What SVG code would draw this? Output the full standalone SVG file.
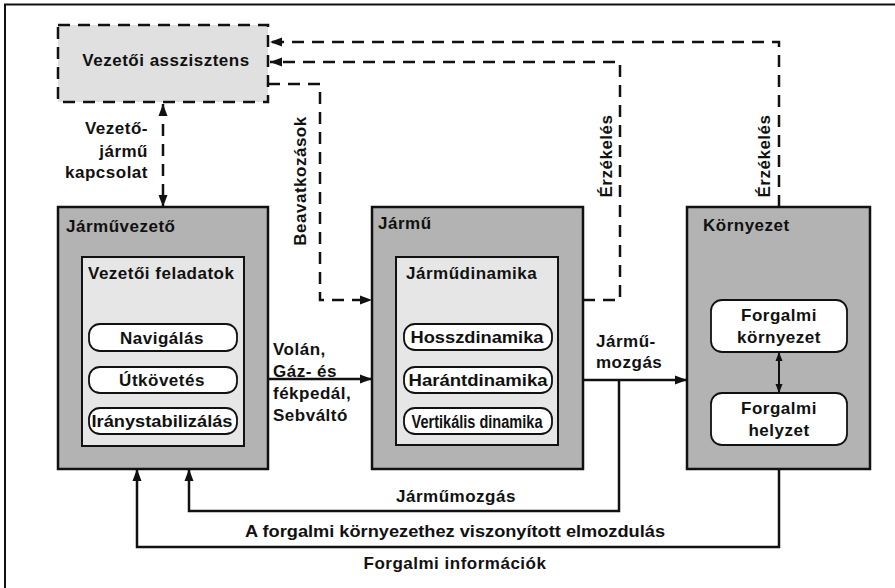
<svg xmlns="http://www.w3.org/2000/svg" width="895" height="588" viewBox="0 0 895 588">
<style>
text{font-family:"Liberation Sans",Arial,sans-serif;font-weight:bold;fill:#111;font-size:17px;letter-spacing:0.5px}
.outer{fill:#b3b3b3;stroke:#111;stroke-width:2.5}
.inner{fill:#e6e6e6;stroke:#111;stroke-width:2}
.pill{fill:#fff;stroke:#111;stroke-width:1.8}
.ln{fill:none;stroke:#111;stroke-width:2.5}
.dash{fill:none;stroke:#111;stroke-width:2.5;stroke-dasharray:12 8}
.c{text-anchor:middle}
.r{text-anchor:end}
.n{letter-spacing:0}
</style>
<defs>
<marker id="ah" markerUnits="userSpaceOnUse" markerWidth="12" markerHeight="10" refX="12" refY="5" orient="auto-start-reverse" viewBox="0 0 12 10">
<path d="M0,0.5 L12,5 L0,9.5 z" fill="#111"/>
</marker>
<marker id="ahs" markerUnits="userSpaceOnUse" markerWidth="9" markerHeight="8" refX="9" refY="4" orient="auto-start-reverse" viewBox="0 0 9 8">
<path d="M0,0.5 L9,4 L0,7.5 z" fill="#111"/>
</marker>
</defs>
<rect width="895" height="588" fill="#fff"/>
<path d="M895,4.5 H5 V588" fill="none" stroke="#111" stroke-width="2"/>

<g id="asszisztens">
<rect x="58" y="25" width="210" height="77" fill="#e0e0e0" stroke="#111" stroke-width="2.5" stroke-dasharray="12 8"/>
<text x="166" y="66" class="c">Vezetői asszisztens</text>
</g>

<g id="jarmuvezeto">
<rect class="outer" x="58" y="207" width="210" height="262"/>
<text x="66" y="232">Járművezető</text>
<rect class="inner" x="82" y="257" width="162" height="189"/>
<text x="88" y="279">Vezetői feladatok</text>
<rect class="pill" x="89" y="324" width="148" height="27" rx="11"/>
<text x="162" y="344" class="c">Navigálás</text>
<rect class="pill" x="89" y="367" width="148" height="26" rx="11"/>
<text x="162" y="386" class="c">Útkövetés</text>
<rect class="pill" x="89" y="408" width="148" height="26" rx="11"/>
<text x="162" y="427" class="c n" textLength="141" lengthAdjust="spacingAndGlyphs">Iránystabilizálás</text>
</g>

<g id="jarmu">
<rect class="outer" x="372" y="207" width="211" height="262"/>
<text x="378" y="229">Jármű</text>
<rect class="inner" x="396" y="257" width="162" height="188"/>
<text x="406" y="279">Járműdinamika</text>
<rect class="pill" x="404" y="324" width="148" height="26" rx="11"/>
<text x="477" y="343" class="c n" textLength="133" lengthAdjust="spacingAndGlyphs">Hosszdinamika</text>
<rect class="pill" x="404" y="367" width="148" height="26" rx="11"/>
<text x="478" y="386" class="c n" textLength="139" lengthAdjust="spacingAndGlyphs">Harántdinamika</text>
<rect class="pill" x="404" y="408" width="148" height="26" rx="11"/>
<text x="477" y="427.5" class="c n" style="font-size:17.5px" textLength="131" lengthAdjust="spacingAndGlyphs">Vertikális dinamika</text>
</g>

<g id="kornyezet">
<rect class="outer" x="687" y="207" width="183" height="262"/>
<text x="703" y="231">Környezet</text>
<rect class="pill" x="711" y="300" width="136" height="52" rx="11"/>
<text x="779" y="321" class="c">Forgalmi</text>
<text x="779" y="343" class="c">környezet</text>
<rect class="pill" x="711" y="393" width="136" height="52" rx="11"/>
<text x="779" y="414" class="c">Forgalmi</text>
<text x="779" y="436" class="c">helyzet</text>
</g>

<g id="connectors">
<path class="dash" d="M779,207 V42 H270" marker-end="url(#ah)"/>
<path class="dash" d="M583,300 H620 V62 H270" marker-end="url(#ah)"/>
<path class="dash" d="M268,84 H320 V300 H372" marker-end="url(#ah)"/>
<path class="dash" d="M163,104 V207" marker-start="url(#ah)" marker-end="url(#ah)"/>
<path class="ln" d="M268,379 H372" marker-end="url(#ah)"/>
<path class="ln" d="M583,380 H687" marker-end="url(#ah)"/>
<path class="ln" d="M619,380 V511 H189 V469" marker-end="url(#ah)"/>
<path class="ln" d="M779,469 V547 H137 V469" marker-end="url(#ah)"/>
<path class="ln" style="stroke-width:2" d="M779,352 V393" marker-start="url(#ahs)" marker-end="url(#ahs)"/>
</g>

<g id="labels">
<text x="148" y="134" class="r">Vezető-</text>
<text x="148" y="157" class="r">jármű</text>
<text x="148" y="178" class="r">kapcsolat</text>
<text x="306" y="181" class="c" transform="rotate(-90 306 181)">Beavatkozások</text>
<text x="612" y="156" class="c" transform="rotate(-90 612 156)">Érzékelés</text>
<text x="770" y="156" class="c" transform="rotate(-90 770 156)">Érzékelés</text>
<text x="273" y="355">Volán,</text>
<text x="273" y="377">Gáz- és</text>
<text x="273" y="399">fékpedál,</text>
<text x="273" y="421">Sebváltó</text>
<text x="596" y="347">Jármű-</text>
<text x="596" y="368">mozgás</text>
<text x="456" y="502" class="c">Járműmozgás</text>
<text x="455" y="537" class="c n" textLength="420" lengthAdjust="spacingAndGlyphs">A forgalmi környezethez viszonyított elmozdulás</text>
<text x="455" y="569" class="c">Forgalmi információk</text>
</g>
</svg>
